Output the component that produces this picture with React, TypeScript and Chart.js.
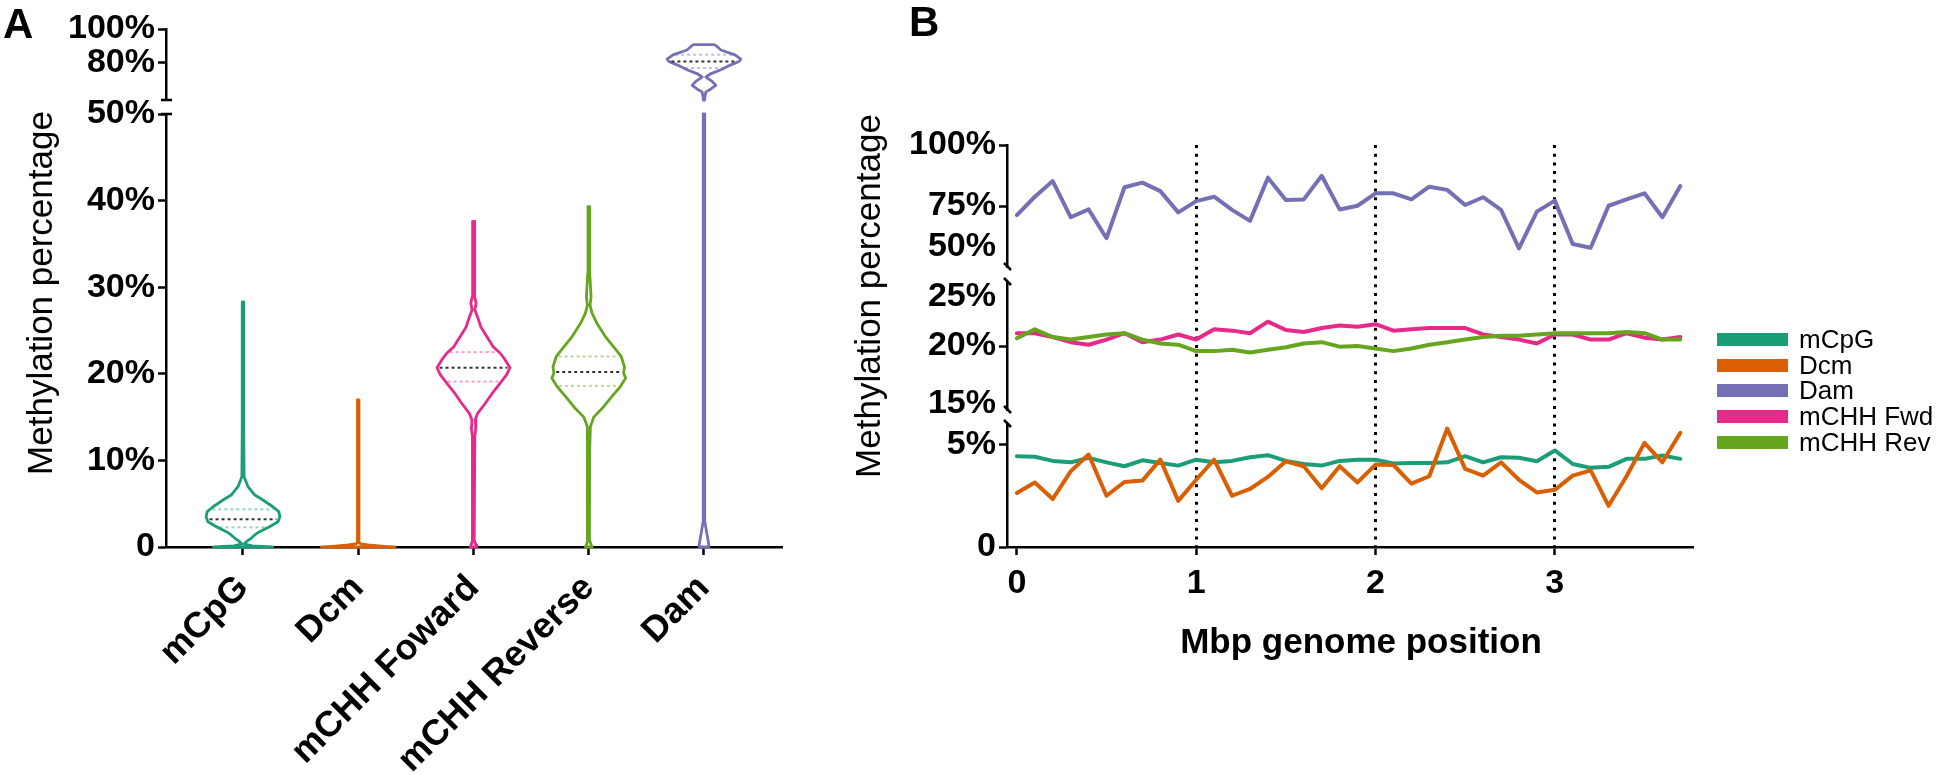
import React, { useEffect, useRef } from 'react';
import { Chart, registerables } from 'chart.js';

Chart.register(...registerables);

const FONT = '"Liberation Sans", Arial, Helvetica, sans-serif';
const W = 1946;
const H = 775;

// ---------------- Panel A data ----------------
const categories = ['mCpG', 'Dcm', 'mCHH Foward', 'mCHH Reverse', 'Dam'];
const violinColors = ['#1b9e77', '#d95f02', '#e7298a', '#66a61e', '#7570b3'];
const quartileColors = [
  'rgba(27,158,119,0.45)',
  'rgba(217,95,2,0.45)',
  'rgba(231,41,138,0.45)',
  'rgba(102,166,30,0.45)',
  'rgba(117,112,179,0.45)',
];
const yTicksAUpper = [80, 100];
const yTicksALower = [0, 10, 20, 30, 40, 50];

// violin outlines: methylation level (%) and relative density (max = 1)
const mcpgLevels = [28.3, 14.0, 8.1, 6.96, 6.0, 5.43, 4.65, 4.08, 3.5, 2.92, 2.34, 1.77, 1.39, 1.0, 0.61, 0.35, 0.12, 0];
const mcpgDensity = [0.02, 0.02, 0.03, 0.135, 0.32, 0.54, 0.81, 0.97, 1.0, 0.95, 0.72, 0.45, 0.32, 0.22, 0.09, 0.03, 0.25, 0.8];
const dcmLevels = [17.0, 0.5, 0.35, 0.2, 0.08, 0];
const dcmDensity = [0.02, 0.02, 0.08, 0.35, 0.7, 1.0];
const fwdLevels = [37.6, 32.4, 28.9, 28.1, 27.4, 26.6, 25.4, 24.3, 23.1, 22.4, 21.6, 20.7, 19.9, 18.9, 17.7, 16.6, 15.4, 14.7, 13.9, 12.7, 7.4, 0.8, 0.2, 0];
const fwdDensity = [0.02, 0.027, 0.036, 0.072, 0.036, 0.108, 0.2, 0.36, 0.54, 0.72, 0.86, 0.99, 0.9, 0.72, 0.5, 0.32, 0.108, 0.045, 0.063, 0.036, 0.02, 0.02, 0.07, 0.09];
const revLevels = [39.3, 31.6, 28.9, 27.9, 27.0, 25.8, 24.3, 23.1, 22.0, 20.8, 20.1, 19.5, 18.5, 17.4, 16.2, 15.0, 13.9, 11.2, 0.8, 0.2, 0];
const revDensity = [0.02, 0.027, 0.063, 0.036, 0.09, 0.225, 0.45, 0.675, 0.88, 0.97, 0.945, 1.0, 0.855, 0.63, 0.405, 0.135, 0.045, 0.027, 0.02, 0.07, 0.09];
const damLowerLevels = [50, 3.0, 1.5, 0.3, 0];
const damLowerDensity = [0.02, 0.02, 0.08, 0.13, 0.13];
const damUpperLevels = [90.8, 87.6, 84.7, 82.2, 80.8, 78.8, 75.9, 73.3, 71.6, 69.0, 66.7, 64.1, 62.8, 59.2, 58];
const damUpperDensity = [0.29, 0.46, 0.84, 1.0, 0.95, 0.73, 0.46, 0.16, 0.05, 0.22, 0.32, 0.16, 0.05, 0.02, 0.02];

const violinMedians = [3.2, null, 20.7, 20.2, 80.8];
const violinQ1 = [2.27, null, 19.1, 18.6, 76.9];
const violinQ3 = [4.35, null, 22.5, 22.0, 84.7];

// ---------------- Panel B data ----------------
const seriesNames = ['mCpG', 'Dcm', 'Dam', 'mCHH Fwd', 'mCHH Rev'];
const seriesColors = ['#1b9e77', '#d95f02', '#7570b3', '#e7298a', '#66a61e'];
const xTicksB = [0, 1, 2, 3];
const mbpPositions = [0, 0.1, 0.2, 0.3, 0.4, 0.5, 0.6, 0.7, 0.8, 0.9, 1.0, 1.1, 1.2, 1.3, 1.4, 1.5, 1.6, 1.7, 1.8, 1.9, 2.0, 2.1, 2.2, 2.3, 2.4, 2.5, 2.6, 2.7, 2.8, 2.9, 3.0, 3.1, 3.2, 3.3, 3.4, 3.5, 3.6, 3.7];
const damLine = [71.3, 78.8, 85.2, 70.4, 73.6, 61.8, 82.7, 84.6, 81.1, 72.4, 77.0, 78.8, 73.4, 68.9, 86.6, 77.5, 77.7, 87.4, 73.6, 75.1, 80.2, 80.2, 77.7, 82.9, 81.6, 75.4, 78.6, 73.4, 57.6, 72.7, 77.2, 59.4, 57.9, 75.1, 77.7, 80.2, 70.4, 83.2];
const fwdLine = [21.0, 21.0, 20.7, 20.3, 20.1, 20.5, 21.0, 20.3, 20.5, 20.9, 20.5, 21.3, 21.2, 21.0, 21.9, 21.25, 21.1, 21.4, 21.6, 21.5, 21.7, 21.2, 21.3, 21.4, 21.4, 21.4, 20.9, 20.7, 20.5, 20.2, 20.9, 20.9, 20.5, 20.5, 21.0, 20.65, 20.5, 20.7];
const revLine = [20.6, 21.3, 20.7, 20.5, 20.7, 20.9, 21.0, 20.5, 20.2, 20.1, 19.6, 19.6, 19.7, 19.5, 19.7, 19.9, 20.2, 20.3, 19.95, 20.0, 19.8, 19.6, 19.8, 20.1, 20.3, 20.5, 20.7, 20.8, 20.8, 20.9, 21.0, 21.0, 21.0, 21.0, 21.1, 21.0, 20.5, 20.5];
const mcpgLine = [4.43, 4.4, 4.2, 4.13, 4.35, 4.13, 3.94, 4.23, 4.1, 3.97, 4.26, 4.13, 4.2, 4.38, 4.48, 4.2, 4.05, 3.97, 4.2, 4.26, 4.26, 4.07, 4.1, 4.1, 4.13, 4.43, 4.13, 4.38, 4.35, 4.18, 4.71, 4.05, 3.86, 3.91, 4.3, 4.3, 4.46, 4.3];
const dcmLine = [2.63, 3.15, 2.34, 3.69, 4.51, 2.5, 3.17, 3.24, 4.26, 2.25, 3.28, 4.26, 2.5, 2.83, 3.42, 4.18, 3.94, 2.87, 3.94, 3.15, 4.02, 4.0, 3.09, 3.45, 5.78, 3.81, 3.48, 4.13, 3.28, 2.66, 2.79, 3.48, 3.74, 2.01, 3.45, 5.08, 4.13, 5.57];

// ---------------- layout constants ----------------
const A_LEFT = 166, A_RIGHT = 782, A_TOP = 29, A_BOTTOM = 547;
const A_SEG = [71, 14, 433];
const B_LEFT = 1007, B_RIGHT = 1692, B_TOP = 145, B_BOTTOM = 547;
const B_SEG = [122, 15, 128, 14, 123];
const VIOLIN_HALF = 0.32;
const tickFont = { family: FONT, size: 34, weight: 'bold' as const };
const catFont = { family: FONT, size: 36, weight: 'bold' as const };

function outline(center: number, levels: number[], density: number[]) {
  const right = levels.map((v, i) => ({ x: center + density[i] * VIOLIN_HALF, y: v }));
  const left = levels.map((v, i) => ({ x: center - density[i] * VIOLIN_HALF, y: v })).reverse();
  return [...right, ...left, right[0]];
}
function densityAt(levels: number[], density: number[], v: number) {
  for (let i = 0; i < levels.length - 1; i++) {
    const a = levels[i], b = levels[i + 1];
    if (v <= a && v >= b) {
      const t = (a - v) / (a - b || 1);
      return density[i] + t * (density[i + 1] - density[i]);
    }
  }
  return 0;
}

function yAxis(o: any) {
  return {
    axis: 'y', type: 'linear', position: 'left', stack: o.stack, stackWeight: o.h, weight: o.order,
    min: o.min, max: o.max,
    afterBuildTicks: (s: any) => { s.ticks = o.ticks.map((v: number) => ({ value: v })); },
    afterFit: (s: any) => { s.width = o.width; },
    ticks: { font: tickFont, color: '#000', padding: 3, autoSkip: false, callback: o.label },
    grid: { drawOnChartArea: false, drawTicks: true, tickLength: 8, tickWidth: 2.5, tickColor: '#000', color: '#000' },
    border: { display: true, color: '#000', width: 2.5 },
  };
}
function gapAxis(stack: string, h: number, order: number) {
  return { axis: 'y', type: 'linear', position: 'left', stack, stackWeight: h, weight: order, display: false };
}

function configA() {
  const datasets: any[] = [];
  const shapes = [
    { idx: 0, levels: mcpgLevels, density: mcpgDensity, axis: 'yLow' },
    { idx: 1, levels: dcmLevels, density: dcmDensity, axis: 'yLow' },
    { idx: 2, levels: fwdLevels, density: fwdDensity, axis: 'yLow' },
    { idx: 3, levels: revLevels, density: revDensity, axis: 'yLow' },
    { idx: 4, levels: damLowerLevels, density: damLowerDensity, axis: 'yLow' },
    { idx: 4, levels: damUpperLevels, density: damUpperDensity, axis: 'yUp' },
  ];
  const statShape = [shapes[0], shapes[1], shapes[2], shapes[3], shapes[5]];
  statShape.forEach((s, i) => {
    const stats = [
      { v: violinQ3[i], c: quartileColors[i] },
      { v: violinQ1[i], c: quartileColors[i] },
      { v: violinMedians[i], c: '#333333' },
    ];
    stats.forEach((st) => {
      if (st.v == null) return;
      const w = densityAt(s.levels, s.density, st.v) * VIOLIN_HALF * 0.93;
      datasets.push({
        data: [{ x: s.idx - w, y: st.v }, { x: s.idx + w, y: st.v }],
        yAxisID: s.axis, borderColor: st.c, borderWidth: 2, borderDash: [3, 3],
        pointRadius: 0, fill: false, tension: 0,
      });
    });
  });
  shapes.forEach((s) => {
    datasets.push({
      data: outline(s.idx, s.levels, s.density), yAxisID: s.axis,
      borderColor: violinColors[s.idx], borderWidth: 2.8, pointRadius: 0, fill: false, tension: 0,
      borderJoinStyle: 'round', clip: false,
    });
  });

  const breaks = {
    id: 'breaksA',
    afterDraw(chart: any) {
      const { ctx } = chart;
      const x = chart.chartArea.left;
      ctx.save();
      ctx.strokeStyle = '#000';
      ctx.lineWidth = 2.5;
      ctx.beginPath();
      ctx.moveTo(x - 5, chart.scales.yUp.bottom); ctx.lineTo(x + 6, chart.scales.yUp.bottom);
      ctx.moveTo(x - 5, chart.scales.yLow.top); ctx.lineTo(x + 6, chart.scales.yLow.top);
      ctx.stroke();
      ctx.restore();
    },
  };

  return {
    type: 'line',
    data: { datasets },
    plugins: [breaks],
    options: {
      responsive: false, animation: false, devicePixelRatio: 1,
      layout: { padding: { left: 0, top: A_TOP, right: W - A_RIGHT, bottom: 0 } },
      plugins: { legend: { display: false }, tooltip: { enabled: false } },
      scales: {
        x: {
          type: 'linear', position: 'bottom', min: -0.668, max: 4.677,
          afterBuildTicks: (s: any) => { s.ticks = categories.map((_, i) => ({ value: i })); },
          afterFit: (s: any) => { s.height = H - A_BOTTOM; },
          ticks: { font: catFont, color: '#000', padding: 12, minRotation: 45, maxRotation: 45, autoSkip: false, callback: (v: number) => categories[v] },
          grid: { drawOnChartArea: false, tickLength: 8, tickWidth: 2.5, tickColor: '#000' },
          border: { display: true, color: '#000', width: 2.5 },
        },
        yUp: yAxis({ stack: 'A', h: A_SEG[0], order: 3, min: 58, max: 100, ticks: yTicksAUpper, width: A_LEFT, label: (v: number) => v + '%' }),
        gapA: gapAxis('A', A_SEG[1], 2),
        yLow: yAxis({ stack: 'A', h: A_SEG[2], order: 1, min: 0, max: 50, ticks: yTicksALower, width: A_LEFT, label: (v: number) => (v === 0 ? '0' : v + '%') }),
      },
    },
  };
}

function configB() {
  const mk = (vals: number[], i: number, axis: string) => ({
    label: seriesNames[i],
    data: mbpPositions.map((x, k) => ({ x, y: vals[k] })),
    yAxisID: axis, borderColor: seriesColors[i], borderWidth: 4, pointRadius: 0, fill: false, tension: 0,
    borderJoinStyle: 'round', borderCapStyle: 'round',
  });
  const datasets = [
    mk(revLine, 4, 'yMid'),
    mk(fwdLine, 3, 'yMid'),
    mk(damLine, 2, 'yTop'),
    mk(dcmLine, 1, 'yBot'),
    mk(mcpgLine, 0, 'yBot'),
  ];
  const extras = {
    id: 'breaksB',
    afterDraw(chart: any) {
      const { ctx } = chart;
      const x = chart.chartArea.left;
      const s = chart.scales;
      ctx.save();
      ctx.setLineDash([]);
      ctx.strokeStyle = '#000';
      ctx.lineWidth = 2.5;
      ctx.beginPath();
      [s.yTop.bottom, s.yMid.top, s.yMid.bottom, s.yBot.top].forEach((y: number) => {
        ctx.moveTo(x - 3, y - 4); ctx.lineTo(x + 4, y + 3);
      });
      ctx.stroke();
      ctx.fillStyle = '#000';
      ctx.font = 'bold 34px ' + FONT;
      ctx.textAlign = 'right';
      ctx.textBaseline = 'middle';
      const lx = x - 8 - 3;
      ctx.fillText('50%', lx, s.yTop.getPixelForValue(50) - 20);
      ctx.fillText('25%', lx, s.yMid.getPixelForValue(25) + 15);
      ctx.fillText('15%', lx, s.yMid.getPixelForValue(15) - 6);
      ctx.restore();
    },
  };
  return {
    type: 'line',
    data: { datasets },
    plugins: [extras],
    options: {
      responsive: false, animation: false, devicePixelRatio: 1,
      layout: { padding: { left: 0, top: B_TOP, right: W - B_RIGHT, bottom: 0 } },
      plugins: { legend: { display: false }, tooltip: { enabled: false } },
      scales: {
        x: {
          type: 'linear', position: 'bottom', min: -0.055, max: 3.765,
          afterBuildTicks: (s: any) => { s.ticks = xTicksB.map((v) => ({ value: v })); },
          afterFit: (s: any) => { s.height = H - B_BOTTOM; },
          ticks: { font: tickFont, color: '#000', padding: 8, maxRotation: 0, autoSkip: false, callback: (v: number) => String(v) },
          grid: {
            drawOnChartArea: true, lineWidth: 3,
            color: (ctx: any) => (ctx.tick && ctx.tick.value === 0 ? 'rgba(0,0,0,0)' : '#000'),
            tickLength: 8, tickWidth: 2.5, tickColor: '#000', tickBorderDash: [],
          },
          border: { display: true, color: '#000', width: 2.5, dash: [3, 5.7] },
        },
        yTop: yAxis({ stack: 'B', h: B_SEG[0], order: 5, min: 50, max: 100, ticks: [75, 100], width: B_LEFT, label: (v: number) => v + '%' }),
        gapB1: gapAxis('B', B_SEG[1], 4),
        yMid: yAxis({ stack: 'B', h: B_SEG[2], order: 3, min: 15, max: 25, ticks: [20], width: B_LEFT, label: (v: number) => v + '%' }),
        gapB2: gapAxis('B', B_SEG[3], 2),
        yBot: yAxis({ stack: 'B', h: B_SEG[4], order: 1, min: 0, max: 6, ticks: [0, 5], width: B_LEFT, label: (v: number) => (v === 0 ? '0' : v + '%') }),
      },
    },
  };
}

function ChartCanvas({ make }: { make: () => any }) {
  const ref = useRef<HTMLCanvasElement>(null);
  useEffect(() => {
    const chart = new Chart(ref.current as HTMLCanvasElement, make());
    return () => chart.destroy();
  }, []);
  return (
    <canvas ref={ref} width={W} height={H}
      style={{ position: 'absolute', left: 0, top: 0, width: W, height: H }} />
  );
}

const abs = (o: any) => ({ position: 'absolute' as const, fontFamily: FONT, color: '#000', margin: 0, ...o });

function RotTitle({ cx, cy, text }: { cx: number; cy: number; text: string }) {
  return (
    <div style={abs({ left: cx - 250, top: cy - 20, width: 500, height: 40, lineHeight: '40px', fontSize: 35, textAlign: 'center', transform: 'rotate(-90deg)', whiteSpace: 'nowrap' })}>
      {text}
    </div>
  );
}

export default function App() {
  const legendRows = [339, 365, 390, 416, 442];
  return (
    <div>
      <ChartCanvas make={configA} />
      <ChartCanvas make={configB} />
      <div style={abs({ left: 3, top: 3, fontSize: 42, fontWeight: 'bold', lineHeight: '42px' })}>A</div>
      <div style={abs({ left: 909, top: 1, fontSize: 42, fontWeight: 'bold', lineHeight: '42px' })}>B</div>
      <RotTitle cx={40} cy={293} text="Methylation percentage" />
      <RotTitle cx={868} cy={296} text="Methylation percentage" />
      <div style={abs({ left: 1061, top: 621, width: 600, height: 40, lineHeight: '40px', fontSize: 35, fontWeight: 'bold', textAlign: 'center', whiteSpace: 'nowrap' })}>
        Mbp genome position
      </div>
      {seriesNames.map((name, i) => (
        <div key={name} style={abs({ left: 1717, top: legendRows[i] - 13, height: 26, display: 'flex', alignItems: 'center' })}>
          <div style={{ width: 71, height: 13, background: seriesColors[i] }} />
          <div style={{ marginLeft: 11, fontSize: 26, lineHeight: '26px', whiteSpace: 'nowrap', fontFamily: FONT }}>{name}</div>
        </div>
      ))}
    </div>
  );
}
